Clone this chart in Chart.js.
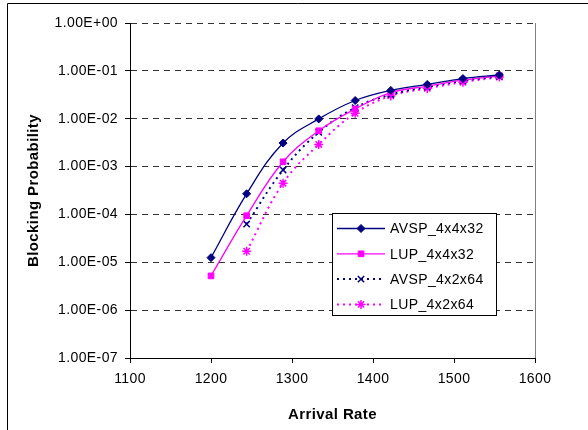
<!DOCTYPE html>
<html>
<head>
<meta charset="utf-8">
<script src="https://cdn.jsdelivr.net/npm/chart.js@4/dist/chart.umd.min.js"></script>
<style>
  body { margin: 0; background: #fff; }
  #wrap { width: 588px; height: 430px; }
</style>
</head>
<body>
<div id="wrap"><canvas id="chart" width="588" height="430"></canvas></div>
<script>
// arrival rates (x)
var rates = [1200, 1244, 1289, 1333, 1378, 1422, 1467, 1511, 1556];
// blocking probability per scheme
var avsp4x4x32 = [1.25e-5, 2.7e-4, 3.1e-3, 9.9e-3, 2.4e-2, 3.9e-2, 5.2e-2, 6.9e-2, 8.2e-2];
var lup4x4x32  = [5.2e-6, 9.4e-5, 1.26e-3, 5.6e-3, 1.6e-2, 3.5e-2, 4.8e-2, 6.4e-2, 7.9e-2];
var avsp4x2x64 = [null, 6.3e-5, 8.5e-4, 5.2e-3, 1.7e-2, 3.2e-2, 4.6e-2, 6.2e-2, 7.7e-2];
var lup4x2x64  = [null, 1.7e-5, 4.5e-4, 2.9e-3, 1.3e-2, 3.0e-2, 4.3e-2, 5.8e-2, 7.4e-2];
var seriesNames = ['AVSP_4x4x32', 'LUP_4x4x32', 'AVSP_4x2x64', 'LUP_4x2x64'];
var yTicks = [1, 1e-1, 1e-2, 1e-3, 1e-4, 1e-5, 1e-6, 1e-7];
var xTicks = [1100, 1200, 1300, 1400, 1500, 1600];

var navy = '#000080';
var pink = '#ff00ff';
var font = 'Arial, "Liberation Sans", sans-serif';

function pts(ys) {
  var out = [];
  for (var k = 0; k < rates.length; k++) {
    if (ys[k] != null) out.push({x: rates[k], y: ys[k]});
  }
  return out;
}

function expLabel(v) {
  var e = Math.round(Math.log10(v));
  var s = e < 0 ? '-' : '+';
  var a = Math.abs(e);
  return '1.00E' + s + (a < 10 ? '0' + a : a);
}

function spacing(chart) {
  // the excel text is a bit wider than plain arial
  chart.ctx.letterSpacing = '0.4px';
}

// frame around the picture + grey right edge of plot + legend box
var extras = {
  id: 'extras',
  beforeLayout: function(chart) { spacing(chart); },
  beforeDraw: function(chart) {
    spacing(chart);
    var c = chart.ctx;
    c.save();
    c.fillStyle = '#fff';
    c.fillRect(0, 0, chart.width, chart.height);
    c.strokeStyle = '#000';
    c.lineWidth = 1;
    c.beginPath();
    c.moveTo(7.5, 430);
    c.lineTo(7.5, 3.5);
    c.lineTo(588, 3.5);
    c.stroke();
    c.restore();
  },
  afterDatasetsDraw: function(chart) {
    var c = chart.ctx;
    var a = chart.chartArea;
    c.save();
    c.strokeStyle = '#808080';
    c.lineWidth = 1;
    c.beginPath();
    c.moveTo(Math.round(a.right) + 0.5, a.top);
    c.lineTo(Math.round(a.right) + 0.5, a.bottom);
    c.stroke();

    // legend
    var bx = 332.5, by = 213.5, bw = 164, bh = 102;
    c.fillStyle = '#fff';
    c.fillRect(bx, by, bw, bh);
    c.strokeStyle = '#000';
    c.strokeRect(bx, by, bw, bh);
    c.font = '14px ' + font;
    c.textBaseline = 'middle';
    chart.data.datasets.forEach(function(ds, k) {
      var yy = 228.5 + k * 25.3;
      c.save();
      c.strokeStyle = ds.borderColor;
      c.lineWidth = ds.borderWidth;
      c.setLineDash(ds.borderDash || []);
      c.beginPath();
      c.moveTo(337, yy);
      c.lineTo(385, yy);
      c.stroke();
      c.restore();
      c.save();
      c.fillStyle = ds.backgroundColor;
      c.strokeStyle = ds.borderColor;
      c.lineWidth = ds.pointBorderWidth;
      Chart.helpers.drawPoint(c, {
        pointStyle: ds.pointStyle,
        radius: ds.pointRadius,
        borderWidth: ds.pointBorderWidth,
        rotation: 0
      }, 361, yy);
      c.restore();
      c.fillStyle = '#000';
      c.fillText(ds.label, 390, yy + 1);
    });
    c.restore();
  }
};

var ctx = document.getElementById('chart').getContext('2d');
var myChart = new Chart(ctx, {
  type: 'line',
  data: {
    datasets: [{
      label: seriesNames[0],
      data: pts(avsp4x4x32),
      borderColor: navy,
      backgroundColor: navy,
      borderWidth: 1.3,
      pointStyle: 'rectRot',
      pointRadius: 4,
      pointBorderWidth: 1,
      tension: 0.4
    }, {
      label: seriesNames[1],
      data: pts(lup4x4x32),
      borderColor: pink,
      backgroundColor: pink,
      borderWidth: 1.3,
      pointStyle: 'rect',
      pointRadius: 4,
      pointBorderWidth: 1,
      tension: 0.4
    }, {
      label: seriesNames[2],
      data: pts(avsp4x2x64),
      borderColor: navy,
      backgroundColor: navy,
      borderWidth: 2,
      borderDash: [2, 4],
      pointStyle: 'crossRot',
      pointRadius: 4.5,
      pointBorderWidth: 1.5,
      tension: 0.4
    }, {
      label: seriesNames[3],
      data: pts(lup4x2x64),
      borderColor: pink,
      backgroundColor: pink,
      borderWidth: 2,
      borderDash: [2, 4],
      pointStyle: 'star',
      pointRadius: 4.5,
      pointBorderWidth: 1.5,
      tension: 0.4
    }]
  },
  options: {
    responsive: false,
    animation: false,
    layout: { padding: { left: 0, top: 23, right: 53, bottom: 0 } },
    plugins: {
      legend: { display: false },
      tooltip: { enabled: false }
    },
    scales: {
      x: {
        type: 'linear',
        min: 1100,
        max: 1600,
        afterFit: function(s) { s.height = 72; },
        afterBuildTicks: function(s) {
          s.ticks = xTicks.map(function(v) { return {value: v}; });
        },
        ticks: {
          color: '#000',
          padding: 8,
          maxRotation: 0,
          autoSkip: false,
          font: { family: font, size: 14 },
          callback: function(v) { return String(v); }
        },
        grid: {
          drawOnChartArea: false,
          tickLength: 5,
          tickColor: '#000'
        },
        border: { color: '#000', width: 1 },
        title: {
          display: true,
          text: 'Arrival Rate',
          color: '#000',
          padding: { top: 0, bottom: 6 },
          font: { family: font, size: 15, weight: 'bold' }
        }
      },
      y: {
        type: 'logarithmic',
        min: 1e-7,
        max: 1,
        afterFit: function(s) { s.width = 130; },
        afterBuildTicks: function(s) {
          s.ticks = yTicks.map(function(v) { return {value: v}; });
        },
        ticks: {
          color: '#000',
          padding: 7,
          autoSkip: false,
          font: { family: font, size: 14 },
          callback: function(v) { return expLabel(v); }
        },
        grid: {
          color: '#333',
          borderDash: [6, 5],
          tickBorderDash: [],
          tickColor: '#000',
          tickLength: 5
        },
        border: { color: '#000', width: 1, dash: [6, 5] },
        title: {
          display: true,
          text: 'Blocking Probability',
          color: '#000',
          padding: { top: 25, bottom: 0 },
          font: { family: font, size: 15, weight: 'bold' }
        }
      }
    }
  },
  plugins: [extras]
});
</script>
</body>
</html>
